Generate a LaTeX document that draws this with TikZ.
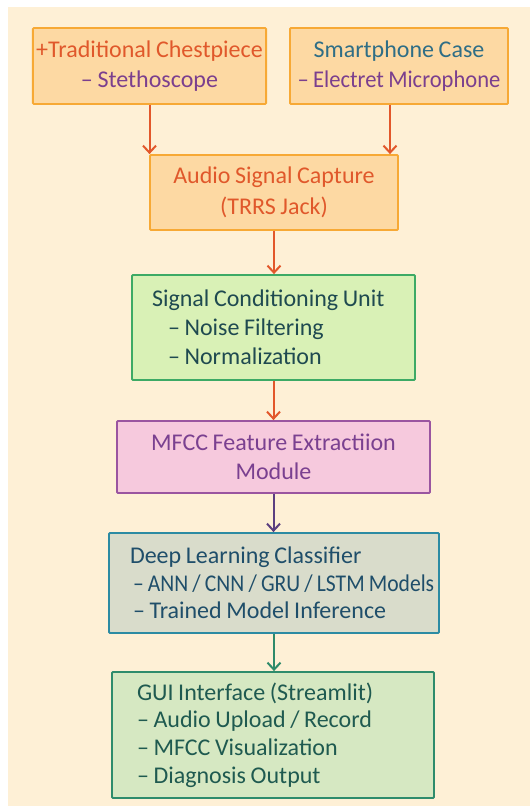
\documentclass[tikz,border=0pt]{standalone}
\usepackage{graphicx}
\usepackage{fontspec}
\setmainfont{Carlito}[WordSpace=0.85]
\usetikzlibrary{arrows.meta}
\definecolor{bgcream}{HTML}{FEF0D6}
\definecolor{orfill}{HTML}{FDD9A3}
\definecolor{ordraw}{HTML}{F7A935}
\definecolor{ortext}{HTML}{E0582B}
\definecolor{purtext}{HTML}{7B3F8E}
\definecolor{tealtext}{HTML}{2F6E86}
\definecolor{grfill}{HTML}{D9F1B6}
\definecolor{grdraw}{HTML}{3DAA65}
\definecolor{grtext}{HTML}{1F4A50}
\definecolor{pkfill}{HTML}{F6C9DD}
\definecolor{pkdraw}{HTML}{9A55A0}
\definecolor{pktext}{HTML}{7A4090}
\definecolor{gyfill}{HTML}{D9DCCB}
\definecolor{gydraw}{HTML}{2C8BA3}
\definecolor{gytext}{HTML}{1F4E6A}
\definecolor{gufill}{HTML}{D6E8C2}
\definecolor{gudraw}{HTML}{2E8C6C}
\definecolor{gutext}{HTML}{1F5A50}
\definecolor{arrorange}{HTML}{E2572B}
\definecolor{arrpurple}{HTML}{5B3F80}
\definecolor{arrgreen}{HTML}{2E8A6A}
\begin{document}
\begin{tikzpicture}[x=1pt,y=-1pt,
  box/.style={draw, line width=1.8pt, rounded corners=1pt, inner ysep=0pt,
    font=\fontsize{24}{29}\selectfont},
  obox/.style={box, fill=orfill, draw=ordraw, align=center},
  arr/.style={line width=2pt, -{Straight Barb[length=7pt,width=13pt,line width=2pt]}}
]
\useasboundingbox (0,0) rectangle (530,806);
\fill[bgcream] (8,7) rectangle (530,806);

\node[obox, minimum width=233pt, minimum height=76pt] (chest) at (149.5,66)
  {\textcolor{ortext}{+Traditional Chestpiece}\\[1pt]\textcolor{purtext}{– Stethoscope}};
\node[obox, minimum width=218pt, minimum height=76pt] (phone) at (399,66)
  {\textcolor{tealtext}{Smartphone Case}\\[1pt]\textcolor{purtext}{\scalebox{0.94}[1]{– Electret Microphone}}};
\node[obox, minimum width=248pt, minimum height=75pt, text=ortext] (cap) at (274,192.5)
  {Audio Signal Capture\\[2pt](TRRS Jack)};
\node[box, fill=grfill, draw=grdraw, text=grtext, align=left, inner xsep=20pt,
  text width=243pt, minimum height=105pt] (cond) at (273.5,327.5)
  {\spaceskip=0pt\xspaceskip=0pt
   \mbox{Signal Conditioning Unit}\\\mbox{\hspace*{16pt}– Noise Filtering}\\\mbox{\hspace*{16pt}– Normalization}};
\node[box, fill=pkfill, draw=pkdraw, text=pktext, align=center,
  minimum width=313pt, minimum height=72pt] (mfcc) at (273.5,457)
  {MFCC Feature Extractiion\\Module};
\node[box, fill=gyfill, draw=gydraw, text=gytext, align=left, inner xsep=21pt,
  text width=288pt, minimum height=100pt,
  font=\fontsize{24}{27.5}\selectfont] (dl) at (274,583)
  {\spaceskip=0pt\xspaceskip=0pt
   \mbox{Deep Learning Classifier}\\\mbox{\hspace*{3pt}\scalebox{0.9}[1]{– ANN / CNN / GRU / LSTM Models}}\\\mbox{\hspace*{3pt}– Trained Model Inference}};
\node[box, fill=gufill, draw=gudraw, text=gutext, align=left, inner xsep=25pt,
  text width=272pt, minimum height=126pt,
  font=\fontsize{24}{27.7}\selectfont] (gui) at (273,735)
  {\spaceskip=0pt\xspaceskip=0pt
   \mbox{GUI Interface (Streamlit)}\\\mbox{– Audio Upload / Record}\\\mbox{– MFCC Visualization}\\\mbox{– Diagnosis Output}};

\draw[arr, arrorange] (chest.south) -- (chest.south |- cap.north);
\draw[arr, arrorange] (phone.south -| 390,0) -- (cap.north -| 390,0);
\draw[arr, arrorange] (cap.south) -- (cap.south |- cond.north);
\draw[arr, arrorange] (cond.south) -- (cond.south |- mfcc.north);
\draw[arr, arrpurple] (mfcc.south) -- (mfcc.south |- dl.north);
\draw[arr, arrgreen] (dl.south) -- (dl.south |- gui.north);
\end{tikzpicture}
\end{document}
